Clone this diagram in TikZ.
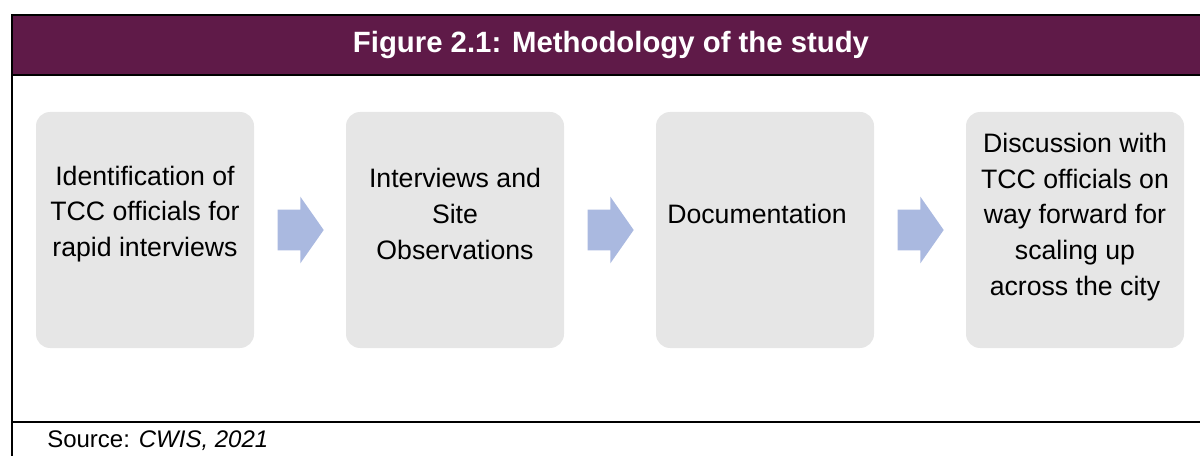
\documentclass[tikz,border=0pt]{standalone}
\usepackage{fontspec}
\setmainfont{Liberation Sans}
\usetikzlibrary{shapes.arrows}
\definecolor{headplum}{HTML}{5F1A48}
\definecolor{boxgray}{HTML}{E6E6E6}
\definecolor{arrowblue}{HTML}{AAB9E0}

\begin{document}
\begin{tikzpicture}[x=0.75pt,y=-0.75pt,
	stepbox/.style={rectangle, rounded corners=10.5pt, fill=boxgray, minimum width=163.5pt, minimum height=177pt, inner sep=0pt},
	steptext/.style={align=center, font=\fontsize{20}{26.8}\selectfont},
	flow/.style={single arrow, anchor=tip, fill=arrowblue, minimum height=34.5pt, inner xsep=0pt, inner ysep=15pt, single arrow head extend=9.75pt, single arrow tip angle=110}]
	\useasboundingbox (0,0) rectangle (1200,456);
	\fill[headplum] (11.5,15) rectangle (1200,75);
	\draw[line width=1.5pt] (1200,15) -- (11.5,15) -- (11.5,456);
	\draw[line width=1.5pt] (11.5,75) -- (1200,75);
	\draw[line width=1.5pt] (11.5,422) -- (1200,422);
	\node (title) at (611,45)	[text=white, font=\bfseries\fontsize{22}{26}\selectfont]	{Figure 2.1: Methodology of the study};
	\node (B1) at ( 145, 230)	[stepbox]	{};
	\node (B2) at ( 455, 230)	[stepbox]	{};
	\node (B3) at ( 765, 230)	[stepbox]	{};
	\node (B4) at (1075, 230)	[stepbox]	{};
	\node (T1) at ( 145, 214)	[steptext]	{Identification of\\TCC officials for\\rapid interviews};
	\node (T2) at ( 455, 214)	[steptext]	{Interviews and\\Site\\Observations};
	\node (T3) at ( 757, 214)	[steptext]	{Documentation};
	\node (T4) at (1075, 217)	[steptext]	{Discussion with\\TCC officials on\\way forward for\\scaling up\\across the city};
	\node (A1) at ( 324, 230)	[flow]	{};
	\node (A2) at ( 634, 230)	[flow]	{};
	\node (A3) at ( 944, 230)	[flow]	{};
	\node (source) at (47,447)	[anchor=base west, inner sep=0pt, font=\fontsize{18}{22}\selectfont]	{Source: \textit{CWIS, 2021}};
\end{tikzpicture}
\end{document}
